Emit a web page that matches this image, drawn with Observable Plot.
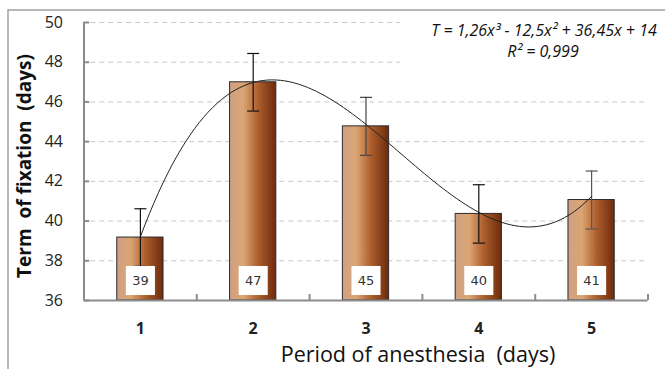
<!DOCTYPE html>
<html><head><meta charset="utf-8">
<script src="https://cdn.jsdelivr.net/npm/d3@7"></script>
<script src="https://cdn.jsdelivr.net/npm/@observablehq/plot@0.6"></script>
<style>
html,body{margin:0;padding:0;background:#fff;}
#chart{position:relative;width:665px;height:369px;overflow:hidden;}
</style></head><body><div id="chart"></div>
<script>
// ---- data ----
const days = [1, 2, 3, 4, 5];
const meanTerm = [39.17, 46.99, 44.77, 40.36, 41.06];
const errTerm = [1.45, 1.45, 1.46, 1.47, 1.46];
const barLabels = ["39", "47", "45", "40", "41"];
const yTicks = [36, 38, 40, 42, 44, 46, 48, 50];
const gridTicks = [38, 40, 42, 44, 46, 48, 50];
const xTickLabels = ["1", "2", "3", "4", "5"];
const trendCoef = [1.26, -12.5, 36.45, 14]; // T = a x^3 + b x^2 + c x + d (from the displayed equation)
const equationText = "T = 1,26x³ - 12,5x² + 36,45x + 14";
const r2Text = "R² = 0,999";
const xLabel = "Period of anesthesia  (days)";
const yLabel = "Term  of fixation  (days)";

const data = days.map((d, i) => ({day: d, mean: meanTerm[i], err: errTerm[i], label: barLabels[i]}));
const boundaries = days.map(d => d + 0.5);
const trend = d3.range(1, 5.0001, 0.04).map(x => ({x, y: trendCoef[0]*x**3 + trendCoef[1]*x**2 + trendCoef[2]*x + trendCoef[3]}));

const barHalf = 0.205;
const capSymbol = {draw(ctx, size) { const h = Math.sqrt(size / Math.PI); ctx.moveTo(-h, 0); ctx.lineTo(h, 0); }};
const axisGray = "#8c8c8c";
const errColors = ["#111", "#111", "#444", "#111", "#555"];

const plot = Plot.plot({
  width: 665, height: 369,
  marginLeft: 83.5, marginRight: 17.5, marginTop: 22, marginBottom: 69,
  x: {type: "linear", domain: [0.5, 5.5], axis: null},
  y: {domain: [36, 50], axis: null},
  style: {fontFamily: "'Open Sans', sans-serif", background: "white", overflow: "visible", color: "#222"},
  marks: [
    Plot.ruleY(gridTicks, {x1: 0.56, x2: 5.5, stroke: "#c8c8c8", strokeDasharray: "5,4", strokeWidth: 1}),
    Plot.rect(data, {x1: d => d.day - barHalf, x2: d => d.day + barHalf, y1: 36, y2: "mean", fill: "url(#barGrad)", stroke: "#2b2b2b", strokeWidth: 1}),
    Plot.ruleX(data, {x: "day", y1: d => d.mean - d.err, y2: d => d.mean + d.err, stroke: (d, i) => errColors[i], strokeWidth: 1.2}),
    Plot.dot(data, {x: "day", y: d => d.mean + d.err, symbol: capSymbol, r: 6, stroke: (d, i) => errColors[i], strokeWidth: 1.2, fill: "none"}),
    Plot.dot(data, {x: "day", y: d => d.mean - d.err, symbol: capSymbol, r: 6, stroke: (d, i) => errColors[i], strokeWidth: 1.2, fill: "none"}),
    Plot.line(trend, {x: "x", y: "y", stroke: "#222", strokeWidth: 1}),
    Plot.dot(data, {x: "day", frameAnchor: "bottom", dy: -20, symbol: "square", r: 16.4, fill: "white", stroke: "none"}),
    Plot.text(data, {x: "day", frameAnchor: "bottom", dy: -20, lineAnchor: "middle", text: "label", fontFamily: "DejaVu Sans", fontSize: 13, fill: "#333"}),
    // axes
    Plot.ruleX([0.5], {y1: 36, y2: 50, stroke: axisGray, strokeWidth: 2}),
    Plot.ruleY([36], {x1: 0.5, x2: 5.5, stroke: axisGray, strokeWidth: 2}),
    Plot.ruleY(yTicks, {x1: 0.5, x2: 0.55, stroke: axisGray, strokeWidth: 2}),
    Plot.ruleX(boundaries, {y1: 36, y2: 36.3, stroke: axisGray, strokeWidth: 2}),
    Plot.axisY({ticks: yTicks, tickSize: 0, tickPadding: 21, fontSize: 16, fill: "#222", label: null}),
    Plot.axisX({ticks: days, tickSize: 0, tickPadding: 22, fontSize: 16, fontWeight: "bold", fill: "#222", label: null, tickFormat: d => xTickLabels[days.indexOf(d)]}),
    Plot.text([xLabel], {text: d => d, frameAnchor: "bottom", textAnchor: "middle", lineAnchor: "middle", dx: 52, dy: 55, fontSize: 21.5, fill: "#111"}),
    Plot.text([yLabel], {text: d => d, frameAnchor: "left", textAnchor: "middle", lineAnchor: "middle", rotate: -90, dx: -59.5, dy: 4.5, fontSize: 19, fontWeight: "bold", fill: "#111"}),
    Plot.text([equationText], {text: d => d, frameAnchor: "top-right", textAnchor: "middle", lineAnchor: "middle", dx: -104, dy: 8, fontSize: 16, fontStyle: "italic", fill: "#111"}),
    Plot.text([r2Text], {text: d => d, frameAnchor: "top-right", textAnchor: "middle", lineAnchor: "middle", dx: -105, dy: 29, fontSize: 16, fontStyle: "italic", fill: "#111"})
  ]
});

const svg = d3.select(plot);
const defs = svg.insert("defs", ":first-child");
const g = defs.append("linearGradient").attr("id", "barGrad").attr("x1", "0").attr("x2", "1").attr("y1", "0").attr("y2", "0");
[[0, "#cfa085"], [0.3, "#dba573"], [0.62, "#ad5e2c"], [1, "#6c2b0c"]].forEach(([o, c]) => g.append("stop").attr("offset", o).attr("stop-color", c));
// white box behind the equation (covers the top gridlines)
const texts = svg.selectAll("g[aria-label='text']").nodes();
const eqNode = texts[texts.length - 2];
const box = document.createElementNS("http://www.w3.org/2000/svg", "rect");
svg.node().insertBefore(box, eqNode);
d3.select(box).attr("x", 400).attr("y", 12).attr("width", 262).attr("height", 56).attr("fill", "white");
// outer chart border
svg.append("rect").attr("x", 8).attr("y", 10).attr("width", 700).attr("height", 420).attr("fill", "none").attr("stroke", "#a0a0a0").attr("stroke-width", 1.5);

document.getElementById("chart").appendChild(plot);
</script>
</body></html>
